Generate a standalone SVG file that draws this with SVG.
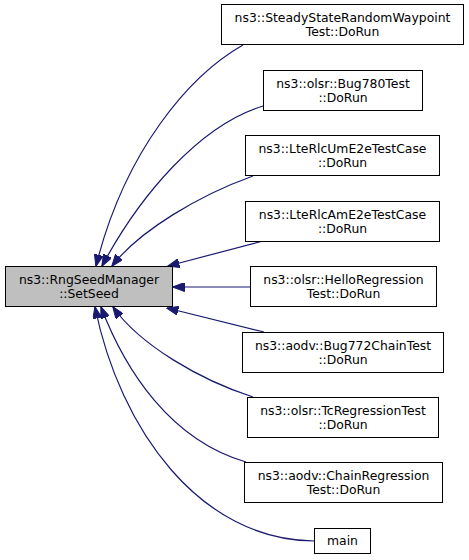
<svg xmlns="http://www.w3.org/2000/svg" width="469" height="560" viewBox="0 0 469 560">
<style>
.n rect{fill:#ffffff;stroke:#000000;stroke-width:1}
.n.root rect{fill:#bfbfbf}
text{font-family:"DejaVu Sans","Liberation Sans",sans-serif;font-size:12.4px;fill:#000000;text-anchor:middle}
.e path{fill:none;stroke:#191970;stroke-width:1.2;marker-end:url(#ah)}
</style>
<defs>
<marker id="ah" markerUnits="userSpaceOnUse" viewBox="0 0 12 9" refX="11.5" refY="4.5" markerWidth="12" markerHeight="9" orient="auto">
<polygon points="0,0 12,4.5 0,9" fill="#191970" stroke="#191970" stroke-width="1"/>
</marker>
</defs>
<rect width="469" height="560" fill="#ffffff"/>
<g class="e" id="edges">
<path d="M243,45 C190,75 125,150 96,266"/>
<path d="M263,106 C200,125 140,195 102,266"/>
<path d="M253,176 C200,195 140,230 112,266"/>
<path d="M263,241 L168,266"/>
<path d="M250,287 L173,287"/>
<path d="M264,332 L167,308"/>
<path d="M253,397 C200,380 140,345 113,307"/>
<path d="M246,462 C170,440 125,370 101,307"/>
<path d="M314,541 C200,540 120,430 95,307"/>
</g>
<g class="n root" id="node_root"><rect x="5.5" y="266.5" width="167" height="40"/><text x="89" y="284">ns3::RngSeedManager</text><text x="89" y="297.5">::SetSeed</text></g>
<g class="n" id="node1"><rect x="221.5" y="4.5" width="242" height="40"/><text x="342.5" y="22">ns3::SteadyStateRandomWaypoint</text><text x="342.5" y="35.5">Test::DoRun</text></g>
<g class="n" id="node2"><rect x="263.5" y="70.5" width="159" height="40"/><text x="343" y="88">ns3::olsr::Bug780Test</text><text x="343" y="101.5">::DoRun</text></g>
<g class="n" id="node3"><rect x="245.5" y="135.5" width="194" height="40"/><text x="342.5" y="153">ns3::LteRlcUmE2eTestCase</text><text x="342.5" y="166.5">::DoRun</text></g>
<g class="n" id="node4"><rect x="245.5" y="201.5" width="194" height="40"/><text x="342.5" y="219">ns3::LteRlcAmE2eTestCase</text><text x="342.5" y="232.5">::DoRun</text></g>
<g class="n" id="node5"><rect x="250.5" y="266.5" width="186" height="40"/><text x="343.5" y="284">ns3::olsr::HelloRegression</text><text x="343.5" y="297.5">Test::DoRun</text></g>
<g class="n" id="node6"><rect x="242.5" y="332.5" width="201" height="40"/><text x="343" y="350">ns3::aodv::Bug772ChainTest</text><text x="343" y="363.5">::DoRun</text></g>
<g class="n" id="node7"><rect x="247.5" y="397.5" width="191" height="40"/><text x="343" y="415">ns3::olsr::TcRegressionTest</text><text x="343" y="428.5">::DoRun</text></g>
<g class="n" id="node8"><rect x="244.5" y="462.5" width="198" height="40"/><text x="343.5" y="480">ns3::aodv::ChainRegression</text><text x="343.5" y="493.5">Test::DoRun</text></g>
<g class="n" id="node9"><rect x="314.5" y="528.5" width="56" height="25"/><text x="342.5" y="545">main</text></g>
</svg>
